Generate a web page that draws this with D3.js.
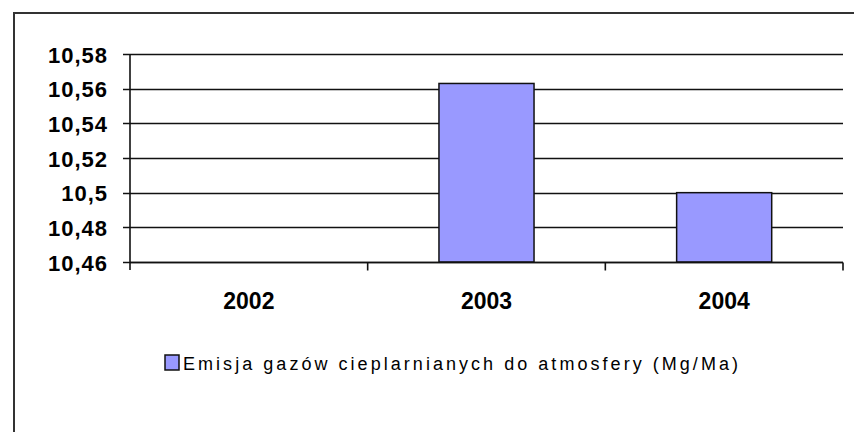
<!DOCTYPE html>
<html lang="pl">
<head>
  <meta charset="UTF-8">
  <title>Emisja gazów</title>
  <script src="https://d3js.org/d3.v7.min.js"></script>
  <style>
    body { margin: 0; background: #fff; }
    svg { font-family: "Liberation Sans", Arial, sans-serif; display: block; }
    .ylab { font-size: 22px; font-weight: bold; letter-spacing: 1px; }
    .xlab { font-size: 23px; font-weight: bold; }
    .legend-text { font-size: 18px; }
  </style>
</head>
<body>
  <svg></svg>
  <script>
    const years = ['2002', '2003', '2004'];
    const values = [null, 10.563, 10.50];
    const yTicks = [10.46, 10.48, 10.50, 10.52, 10.54, 10.56, 10.58];
    const yTickLabels = ['10,46', '10,48', '10,5', '10,52', '10,54', '10,56', '10,58'];
    const seriesName = 'Emisja gazów cieplarnianych do atmosfery (Mg/Ma)';

    const W = 854, H = 432;
    const plot = { left: 130, right: 843, top: 54, bottom: 262 };

    const svg = d3.select('svg')
      .attr('width', W)
      .attr('height', H);

    // outer frame (runs off the right and bottom edge like the original)
    svg.append('rect')
      .attr('x', 14).attr('y', 13)
      .attr('width', W + 10).attr('height', H + 10)
      .attr('fill', 'none')
      .attr('stroke', '#333')
      .attr('stroke-width', 2);

    const x = d3.scaleBand()
      .domain(years)
      .range([plot.left, plot.right])
      .paddingInner(0.6)
      .paddingOuter(0.3);

    const y = d3.scaleLinear()
      .domain([10.46, 10.58])
      .range([plot.bottom, plot.top]);

    // gridlines + y ticks
    svg.append('g')
      .selectAll('line')
      .data(yTicks)
      .enter()
      .append('line')
      .attr('x1', plot.left - 7)
      .attr('x2', plot.right)
      .attr('y1', d => Math.round(y(d)) + 0.5)
      .attr('y2', d => Math.round(y(d)) + 0.5)
      .attr('stroke', '#111')
      .attr('stroke-width', 1.6);

    svg.append('g')
      .selectAll('text')
      .data(yTicks)
      .enter()
      .append('text')
      .attr('class', 'ylab')
      .attr('x', 108)
      .attr('y', d => y(d) + 1)
      .attr('dy', '0.35em')
      .attr('text-anchor', 'end')
      .text((d, i) => yTickLabels[i]);

    // bars
    svg.append('g')
      .selectAll('rect')
      .data(years.map((yr, i) => ({ year: yr, value: values[i] })).filter(d => d.value != null))
      .enter()
      .append('rect')
      .attr('x', d => x(d.year))
      .attr('y', d => y(d.value))
      .attr('width', x.bandwidth())
      .attr('height', d => y(10.46) - y(d.value))
      .attr('fill', '#9999ff')
      .attr('stroke', '#111')
      .attr('stroke-width', 1.5);

    // y axis line
    svg.append('line')
      .attr('x1', plot.left).attr('x2', plot.left)
      .attr('y1', plot.top).attr('y2', plot.bottom + 8)
      .attr('stroke', '#111')
      .attr('stroke-width', 1.6);

    // x axis with ticks between categories
    const xAxis = d3.axisBottom(x)
      .tickSize(0)
      .tickPadding(30);
    const gx = svg.append('g')
      .attr('transform', `translate(0,${plot.bottom + 0.5})`)
      .call(xAxis);
    gx.select('.domain')
      .attr('d', `M${plot.left},0H${plot.right}`)
      .attr('stroke', '#111')
      .attr('stroke-width', 1.6);
    gx.selectAll('text')
      .attr('class', 'xlab')
      .attr('fill', '#000')
      .attr('font-family', null)
      .attr('font-size', null)
      .attr('dy', '0.35em')
      .attr('y', 38);

    const step = x.step();
    const bounds = years.map((yr, i) => x(yr) - x.paddingInner() * step / 2 + step);
    gx.selectAll('.sep')
      .data(bounds)
      .enter()
      .append('line')
      .attr('class', 'sep')
      .attr('x1', d => d).attr('x2', d => d)
      .attr('y1', 0).attr('y2', 8)
      .attr('stroke', '#111')
      .attr('stroke-width', 1.6);

    // legend
    const leg = svg.append('g').attr('transform', 'translate(165,355)');
    leg.append('rect')
      .attr('width', 14).attr('height', 15)
      .attr('fill', '#9999ff')
      .attr('stroke', '#111')
      .attr('stroke-width', 1.5);
    leg.append('text')
      .attr('class', 'legend-text')
      .attr('x', 18)
      .attr('y', 15)
      .attr('textLength', 555)
      .attr('lengthAdjust', 'spacing')
      .text(seriesName);
  </script>
</body>
</html>
